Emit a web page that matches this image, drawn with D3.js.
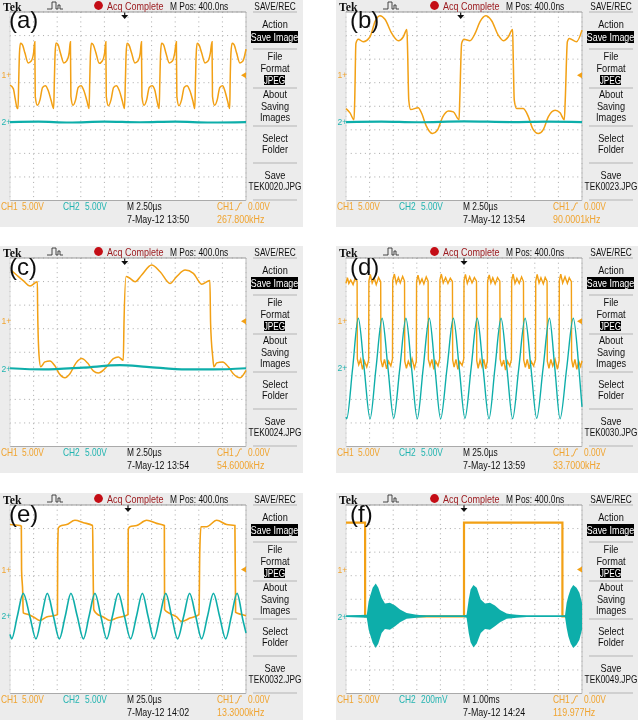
<!DOCTYPE html>
<html><head><meta charset="utf-8">
<script src="https://cdn.jsdelivr.net/npm/d3@7/dist/d3.min.js"></script>
<style>html,body{margin:0;padding:0;background:#fff;overflow:hidden}svg{display:block}</style>
</head><body><svg id="c" width="638" height="726"></svg>
<script>
// Trace readings: [time in divisions, level in divisions above channel ground]
const a_ch1=[[0,-.42],[.14,-.57],[.22,-1],[.31,-1.42],[.34,-1.42],[.37,-.21],[.4,.9],[.44,1.35],[.52,1.3],[.63,.95],[.77,.52],[.9,.6],[1,.95],[1.05,1.42],[1.07,-.9],[1.16,-1.28],[1.27,-1.05],[1.38,-.52],[1.5,-.45],[1.62,-.65],[1.75,-1.1],[1.85,-1.42],[1.88,-.21],[1.91,.9],[1.95,1.36],[2.03,1.3],[2.14,.93],[2.28,.52],[2.41,.62],[2.51,.98],[2.56,1.42],[2.58,-.9],[2.67,-1.28],[2.78,-1.05],[2.89,-.52],[3.01,-.45],[3.13,-.65],[3.26,-1.1],[3.35,-1.42],[3.38,-.21],[3.41,.9],[3.45,1.35],[3.53,1.28],[3.64,.95],[3.78,.5],[3.91,.6],[4.01,.95],[4.06,1.42],[4.08,-.9],[4.17,-1.3],[4.28,-1.05],[4.39,-.52],[4.51,-.45],[4.63,-.65],[4.76,-1.1],[4.85,-1.42],[4.89,-.21],[4.92,.9],[4.96,1.35],[5.04,1.28],[5.15,.95],[5.29,.52],[5.42,.6],[5.52,.95],[5.57,1.42],[5.59,-.9],[5.68,-1.28],[5.79,-1.05],[5.9,-.52],[6.02,-.45],[6.14,-.65],[6.23,-1.1],[6.32,-1.42],[6.35,-.21],[6.38,.9],[6.42,1.35],[6.5,1.3],[6.61,.93],[6.75,.52],[6.88,.6],[6.98,.95],[7.05,1.42],[7.07,-.9],[7.16,-1.3],[7.27,-1.05],[7.38,-.52],[7.5,-.45],[7.62,-.65],[7.75,-1.1],[7.83,-1.42],[7.86,-.21],[7.89,.9],[7.93,1.35],[8.01,1.28],[8.12,.95],[8.26,.52],[8.39,.6],[8.49,.95],[8.56,1.42],[8.58,-.9],[8.67,-1.28],[8.78,-1.05],[8.89,-.52],[9.01,-.45],[9.1,-.65],[9.22,-1.1],[9.31,-1.42],[9.33,-.21],[9.36,.9],[9.41,1.35],[9.49,1.3],[9.6,.95],[9.74,.52],[9.87,.6],[10,1.1]];
const a_ch2=[[0,0],[1.2,.02],[2.5,-.02],[4,.02],[5.5,-.01],[7,.02],[8.5,-.02],[10,0]];
const b_ch1=[[0,-1.42],[.17,-1.6],[.34,-1.89],[.37,-1.06],[.42,1.35],[.52,1.52],[.73,1.42],[1.02,1.63],[1.23,2.27],[1.44,2.52],[1.65,2.37],[1.94,1.77],[2.22,1.46],[2.43,1.63],[2.58,1.94],[2.61,1.06],[2.66,-1.06],[2.74,-1.46],[3.06,-1.38],[3.21,-1.63],[3.39,-2.13],[3.67,-2.48],[3.87,-2.34],[4.1,-1.77],[4.34,-1.52],[4.55,-1.56],[4.79,-1.89],[4.82,-1.06],[4.9,1.35],[5,1.52],[5.25,1.46],[5.47,1.77],[5.68,2.27],[5.92,2.52],[6.17,2.31],[6.45,1.7],[6.67,1.46],[6.88,1.63],[7.06,1.94],[7.08,1.06],[7.13,-1.06],[7.23,-1.42],[7.51,-1.42],[7.73,-1.77],[7.91,-2.27],[8.15,-2.48],[8.36,-2.31],[8.57,-1.77],[8.86,-1.49],[9.07,-1.6],[9.25,-1.89],[9.29,-1.06],[9.38,1.42],[9.46,1.56],[9.77,1.42],[10,1.91]];
const b_ch2=[[0,0],[1.5,.02],[3,-.01],[5,.03],[7,0],[8.5,.02],[10,0]];
const c_ch1=[[.04,2.17],[.28,1.96],[.56,1.72],[.85,1.49],[1.16,1.67],[1.17,.61],[1.23,-1.45],[1.3,-1.94],[1.48,-1.73],[1.69,-1.69],[1.91,-1.91],[2.09,-2.23],[2.33,-2.4],[2.54,-2.23],[2.8,-1.77],[3.04,-1.59],[3.28,-1.77],[3.53,-2.11],[3.74,-2.2],[4.03,-2.01],[4.38,-1.59],[4.59,-1.52],[4.8,-1.66],[4.83,-.1],[4.92,1.89],[5.08,1.82],[5.3,1.67],[5.58,1.96],[6,2.38],[6.36,2.1],[6.78,1.6],[7.06,1.89],[7.42,2.17],[7.77,2.03],[8.12,1.57],[8.47,1.72],[8.5,-.1],[8.59,-1.52],[8.64,-1.94],[8.76,-1.77],[9.01,-1.73],[9.25,-1.94],[9.46,-2.23],[9.75,-2.4],[10,-2.09]];
const c_ch2=[[0,.01],[1.41,-.04],[3.11,.04],[4.66,.14],[5.79,.07],[7.49,-.04],[8.62,-.04],[10,.01]];
const d_ch1=[[0,1.6],[.06,1.85],[.12,1.6],[.2,1.75],[.3,1.55],[.38,1.8],[.47,1.7],[.48,-1.6],[.54,-1.85],[.62,-1.62],[.7,-2.05],[.78,-1.7],[.88,-1.95],[.96,-1.65],[.97,1.7],[1.03,1.98],[1.11,1.62],[1.2,1.82],[1.28,1.55],[1.38,1.85],[1.47,1.68],[1.48,-1.65],[1.55,-1.95],[1.63,-1.62],[1.72,-2.02],[1.8,-1.7],[1.9,-1.9],[1.97,-1.6],[1.98,1.72],[2.05,2],[2.13,1.6],[2.22,1.85],[2.3,1.62],[2.4,1.9],[2.48,1.7],[2.49,-1.7],[2.56,-2],[2.64,-1.7],[2.72,-1.9],[2.8,-1.6],[2.9,-2],[2.98,-1.7],[2.99,1.68],[3.05,1.95],[3.13,1.6],[3.22,1.8],[3.3,1.58],[3.4,1.88],[3.48,1.7],[3.49,-1.62],[3.56,-1.9],[3.64,-1.62],[3.72,-2.05],[3.8,-1.7],[3.9,-1.9],[3.97,-1.6],[3.98,1.75],[4.04,2],[4.12,1.62],[4.22,1.85],[4.32,1.6],[4.42,1.82],[4.51,1.68],[4.52,-1.65],[4.58,-1.95],[4.66,-1.62],[4.74,-2.05],[4.82,-1.72],[4.92,-1.88],[4.99,-1.6],[5,1.72],[5.06,1.98],[5.14,1.6],[5.24,1.88],[5.34,1.62],[5.44,1.85],[5.53,1.7],[5.54,-1.68],[5.6,-2],[5.68,-1.65],[5.76,-1.92],[5.84,-1.62],[5.92,-2.02],[5.99,-1.7],[6,1.7],[6.07,1.96],[6.14,1.62],[6.22,1.84],[6.32,1.58],[6.42,1.85],[6.52,1.7],[6.53,-1.6],[6.6,-1.92],[6.68,-1.65],[6.76,-2.08],[6.84,-1.7],[6.94,-1.9],[7.01,-1.62],[7.02,1.72],[7.08,2],[7.16,1.6],[7.24,1.82],[7.34,1.6],[7.44,1.88],[7.52,1.68],[7.53,-1.65],[7.6,-1.96],[7.68,-1.62],[7.76,-2.02],[7.84,-1.7],[7.95,-1.9],[8.03,-1.62],[8.04,1.7],[8.1,1.98],[8.18,1.62],[8.26,1.84],[8.36,1.58],[8.44,1.86],[8.52,1.7],[8.53,-1.7],[8.6,-2],[8.68,-1.62],[8.76,-1.9],[8.86,-1.62],[8.96,-2.04],[9.03,-1.68],[9.04,1.72],[9.1,2],[9.18,1.62],[9.28,1.88],[9.38,1.6],[9.46,1.84],[9.55,1.68],[9.56,-1.62],[9.62,-1.96],[9.7,-1.62],[9.78,-2.05],[9.86,-1.7],[9.94,-1.92],[10,-1.68]];
const d_ch2=[[0,-2.1],[.03,-2.17],[.28,-.04],[.52,2.09],[.77,-.04],[1.02,-2.17],[1.27,-.04],[1.53,2.09],[1.78,-.04],[2.02,-2.15],[2.28,-.04],[2.54,2.09],[2.78,-.04],[3.02,-2.17],[3.27,-.04],[3.53,2.09],[3.77,-.04],[4.01,-2.17],[4.28,-.04],[4.55,2.09],[4.8,-.04],[5.04,-2.15],[5.3,-.04],[5.56,2.09],[5.81,-.04],[6.06,-2.17],[6.31,-.04],[6.57,2.09],[6.82,-.04],[7.06,-2.17],[7.32,-.04],[7.59,2.09],[7.84,-.04],[8.08,-2.15],[8.35,-.04],[8.62,2.09],[8.85,-.04],[9.07,-2.17],[9.35,-.04],[9.63,2.09],[9.87,-.04],[10,-1.67]];
const e_ch1=[[0,1.91],[.42,1.87],[.48,1.84],[.49,0],[.54,-.99],[.56,-1.84],[.78,-1.91],[.99,-2.01],[1.27,-2.16],[1.55,-2.01],[1.84,-1.96],[2.01,-1.91],[2.02,.71],[2.05,1.77],[2.19,1.87],[2.4,1.91],[2.75,2.09],[3.11,1.99],[3.5,1.87],[3.52,.14],[3.55,-1.7],[3.67,-1.87],[3.95,-2.01],[4.24,-2.16],[4.52,-2.06],[5,-1.91],[5.01,1.7],[5.08,1.82],[5.37,1.87],[5.79,2.09],[6.21,1.96],[6.54,1.87],[6.55,-1.7],[6.78,-1.87],[7.06,-2.01],[7.27,-2.2],[7.63,-2.06],[8.01,-1.91],[8.04,.71],[8.09,1.82],[8.33,1.82],[8.76,2.09],[9.18,1.91],[9.53,1.87],[9.56,-1.82],[9.82,-1.91],[10,-1.96]];
const e_ch2=[[0,-.8],[.07,-.99],[.31,-.03],[.56,.94],[.84,-.03],[1.1,-.99],[1.34,-.03],[1.58,.94],[1.84,-.03],[2.09,-.99],[2.34,-.03],[2.58,.94],[2.85,-.03],[3.11,-.99],[3.35,-.03],[3.6,.94],[3.85,-.03],[4.1,-.99],[4.34,-.03],[4.59,.94],[4.85,-.03],[5.11,-.99],[5.36,-.03],[5.61,.94],[5.85,-.03],[6.1,-.99],[6.35,-.03],[6.6,.94],[6.85,-.03],[7.1,-.99],[7.36,-.03],[7.61,.94],[7.87,-.03],[8.12,-.99],[8.37,-.03],[8.62,.94],[8.88,-.03],[9.14,-.99],[9.38,-.03],[9.62,.94],[9.87,-.2],[10,-.74]];
const f_ch1=[[0,1.99],[.81,1.99],[.81,-1.99],[5,-1.99],[5,1.99],[9.17,1.99],[9.17,-1.99],[10,-1.99]];
const f_ch2=[[0,0],[10,0]];
// CH2 burst envelope in (f): [time, upper, lower]
const f_env=[[0,.03,-.03],[.88,.06,-.06],[.96,.64,-.57],[1.02,.85,-.78],[1.13,1.21,-1.13],[1.26,1.39,-1.35],[1.37,1.21,-1.16],[1.51,.78,-.71],[1.65,.54,-.54],[1.86,.57,-.57],[2.08,.45,-.43],[2.29,.28,-.26],[2.57,.14,-.11],[2.99,.06,-.06],[3.42,.03,-.03],[4.97,.03,-.03],[5.11,.06,-.06],[5.2,.71,-.71],[5.28,1.13,-1.11],[5.4,1.33,-1.33],[5.54,1.21,-1.16],[5.71,.71,-.71],[5.89,.54,-.54],[6.1,.57,-.57],[6.31,.45,-.43],[6.53,.26,-.26],[6.81,.11,-.11],[7.23,.06,-.06],[7.66,.03,-.03],[9.28,.03,-.03],[9.35,.57,-.5],[9.42,.85,-.85],[9.52,1.16,-1.16],[9.63,1.33,-1.35],[9.77,1.21,-1.21],[9.89,1,-1],[10,.57,-.57]];
// Screen readouts
const panelLabels=["(a)","(b)","(c)","(d)","(e)","(f)"];
const fileNames=["TEK0020.JPG","TEK0023.JPG","TEK0024.JPG","TEK0030.JPG","TEK0032.JPG","TEK0049.JPG"];
const dates=["7-May-12 13:50","7-May-12 13:54","7-May-12 13:54","7-May-12 13:59","7-May-12 14:02","7-May-12 14:24"];
const freqs=["267.800kHz","90.0001kHz","54.6000kHz","33.7000kHz","13.3000kHz","119.977Hz"];
const timeBases=["M 2.50\u00b5s","M 2.50\u00b5s","M 2.50\u00b5s","M 25.0\u00b5s","M 25.0\u00b5s","M 1.00ms"];
const ch2Scales=["5.00V","5.00V","5.00V","5.00V","5.00V","200mV"];
const ch1Grounds=[1.32,1.32,1.32,1.32,1.26,1.26];
const ch2Grounds=[-.67,-.67,-.69,-.65,-.69,-.72];
const triggerPos=[4.86,4.86,4.86,5,5,5];
const ch1Traces=[a_ch1,b_ch1,c_ch1,d_ch1,e_ch1,f_ch1];
const ch2Traces=[a_ch2,b_ch2,c_ch2,d_ch2,e_ch2,f_ch2];

const ORANGE="#f2a012",TEAL="#11aeaa",ORTXT="#f0a430",TLTXT="#22b4b0";
const svg=d3.select("#c");
const defs=svg.append("defs");
defs.append("filter").attr("id","soft").attr("x","-5%").attr("y","-5%").attr("width","110%").attr("height","110%")
  .append("feGaussianBlur").attr("stdDeviation",.28);
const origins=[[0,0],[336,0],[0,246],[336,246],[0,493],[336,493]];
const labelX=[9,14,9,14,9,14];

function text(g,x,y,s,o={}){
  const sx=o.sx||.79;
  return g.append("text").attr("transform",`translate(${x},${y}) scale(${sx},1)`)
    .attr("text-anchor",o.anchor||"start").attr("font-family",o.family||"'Liberation Sans',Arial,sans-serif")
    .attr("font-size",o.size||10.6).attr("font-weight",o.weight||"normal").attr("fill",o.fill||"#111").text(s);
}
origins.forEach(([ox,oy],i)=>{
  const g=svg.append("g").attr("transform",`translate(${ox},${oy})`).attr("filter","url(#soft)");
  const W=i%2?302:303;
  g.append("rect").attr("width",W).attr("height",227).attr("fill","#ececec");
  const L=10,R=246,T=12,B=200.5;
  g.append("rect").attr("x",L).attr("y",T).attr("width",R-L).attr("height",B-T).attr("fill","#fff");
  const x=d3.scaleLinear([0,10],[L,R]),y=d3.scaleLinear([-4,4],[B,T]);
  // graticule
  const grid=g.append("g").attr("stroke","#a9a9a9").attr("stroke-width",1).attr("stroke-dasharray","1 3.72");
  x.ticks(10).forEach(t=>grid.append("line").attr("x1",x(t)).attr("x2",x(t)).attr("y1",T).attr("y2",B));
  y.ticks(8).forEach(v=>grid.append("line").attr("x1",L).attr("x2",R).attr("y1",y(v)).attr("y2",y(v)));
  g.append("line").attr("x1",L).attr("x2",R).attr("y1",T).attr("y2",T).attr("stroke","#999");
  g.append("line").attr("x1",L).attr("x2",R).attr("y1",B).attr("y2",B).attr("stroke","#aaa");
  g.append("line").attr("x1",R).attr("x2",R).attr("y1",T).attr("y2",B).attr("stroke","#bbb");
  g.append("line").attr("x1",L).attr("x2",L).attr("y1",T).attr("y2",B).attr("stroke","#ddd");
  // traces
  const y1=v=>y(ch1Grounds[i]+v), y2=v=>y(ch2Grounds[i]+v);
  const ch1Line=d3.line().x(d=>x(d[0])).y(d=>y1(d[1]));
  if(i!==3&&i!==5) ch1Line.curve(d3.curveMonotoneX);
  const ch2Line=d3.line().x(d=>x(d[0])).y(d=>y2(d[1])).curve(d3.curveMonotoneX);
  const ch1W=[1.5,1.5,1.5,1.4,1.6,2.2][i], ch2W=[2.2,2.2,2.2,1.4,1.6,1.6][i];
  g.append("path").attr("d",ch1Line(ch1Traces[i])).attr("fill","none").attr("stroke",ORANGE).attr("stroke-width",ch1W);
  if(i===5){
    g.append("path").attr("fill",TEAL).attr("d",d3.area().x(d=>x(d[0])).y0(d=>y2(d[2])).y1(d=>y2(d[1]))(f_env));
  }
  g.append("path").attr("d",ch2Line(ch2Traces[i])).attr("fill","none").attr("stroke",TEAL).attr("stroke-width",ch2W);
  // header
  text(g,3,10.5,"Tek",{family:"'Liberation Serif',serif",weight:"bold",size:12,sx:.98});
  g.append("path").attr("d","M47 9H52V2H56V9H58V5H60V9H63").attr("fill","none").attr("stroke","#333").attr("stroke-width",.9);
  g.append("circle").attr("cx",98.5).attr("cy",5.5).attr("r",4.4).attr("fill","#c40f14");
  text(g,107,9.5,"Acq Complete",{fill:"#9c1c20",sx:.9,size:10});
  text(g,170,9.5,"M Pos: 400.0ns",{sx:.84,size:10});
  text(g,275,9.5,"SAVE/REC",{anchor:"middle",sx:.83,size:10});
  const ax=x(triggerPos[i]);
  g.append("path").attr("d",`M${ax-3.5} 15H${ax+3.5}L${ax} 19Z M${ax-.6} 12.5H${ax+.6}V15H${ax-.6}Z`).attr("fill","#111");
  // side menu
  const seps=[12,49,88,126,163,200];
  seps.forEach(s=>g.append("line").attr("x1",253).attr("x2",297).attr("y1",s).attr("y2",s).attr("stroke","#b4b4b4"));
  [["Action",28],["File",60],["Format",72],["About",98],["Saving",110],["Images",121],["Select",142],["Folder",153],["Save",179]]
    .forEach(([s,yy])=>text(g,275,yy,s,{anchor:"middle",sx:.87}));
  g.append("rect").attr("x",251).attr("y",31).attr("width",47).attr("height",12).attr("fill","#000");
  text(g,274.5,40.5,"Save Image",{anchor:"middle",fill:"#fff",sx:.84});
  g.append("rect").attr("x",264).attr("y",75).attr("width",21).attr("height",10).attr("fill","#000");
  text(g,274.5,83.5,"JPEG",{anchor:"middle",fill:"#fff",sx:.78});
  text(g,275,190,fileNames[i],{anchor:"middle",sx:.78});
  // bottom readout
  text(g,1,210,"CH1",{fill:ORTXT});
  text(g,22,210,"5.00V",{fill:ORTXT});
  text(g,63,210,"CH2",{fill:TLTXT});
  text(g,85,210,ch2Scales[i],{fill:TLTXT});
  text(g,127,210,timeBases[i],{});
  text(g,217,210,"CH1",{fill:ORTXT});
  g.append("path").attr("d","M235 210H237L240 203H242").attr("fill","none").attr("stroke",ORTXT).attr("stroke-width",.9);
  text(g,248,210,"0.00V",{fill:ORTXT});
  text(g,127,223,dates[i],{sx:.84});
  text(g,217,223,freqs[i],{fill:ORTXT,sx:.84});
  // channel markers
  text(g,1.5,y1(0)+3.3,"1+",{fill:ORTXT,size:9.5,sx:.9});
  text(g,1.5,y2(0)+3.3,"2+",{fill:TLTXT,size:9.5,sx:.9});
  g.append("path").attr("d",`M${R-5} ${y1(0)}L${R} ${y1(0)-3}V${y1(0)+3}Z`).attr("fill",ORANGE);
  // panel letter
  text(g,labelX[i],i<2?28:29,panelLabels[i],{size:24,sx:1,fill:"#111"});
});
</script></body></html>
